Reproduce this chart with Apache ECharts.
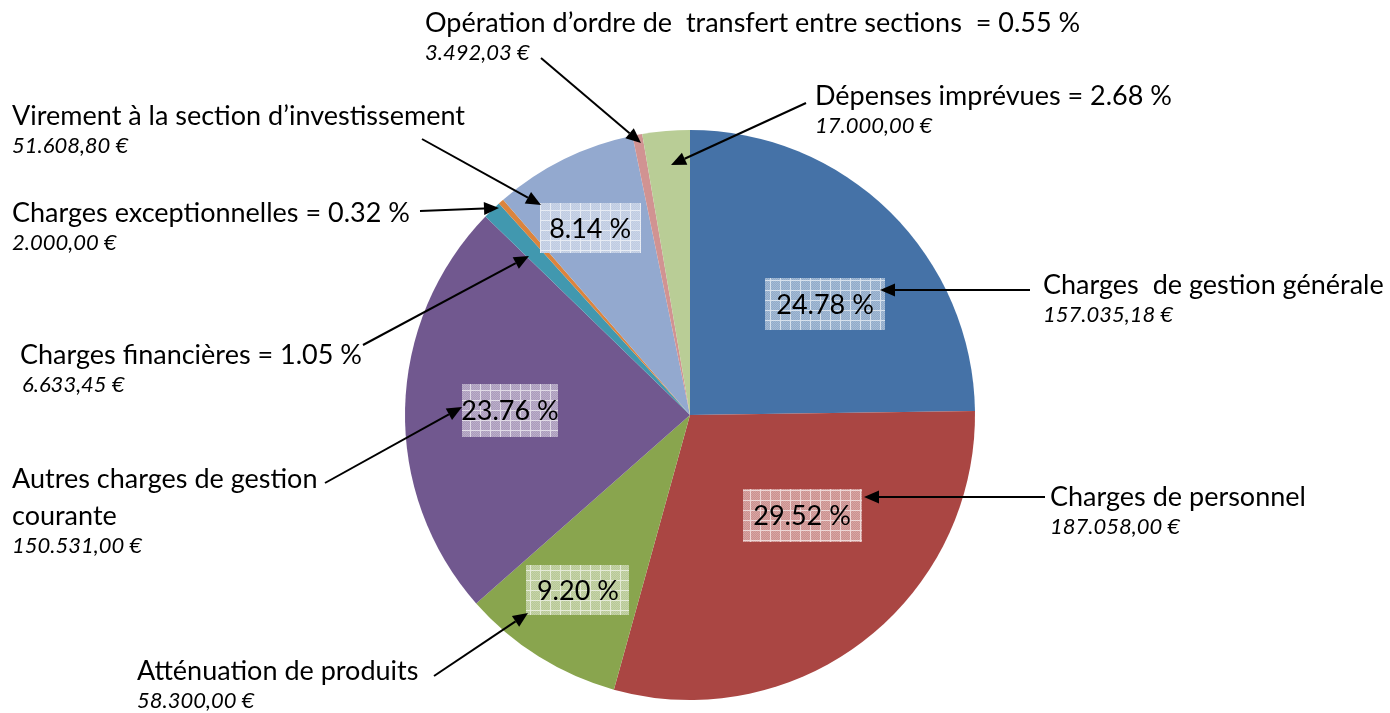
<!DOCTYPE html>
<html>
<head>
<meta charset="utf-8">
<script src="https://cdn.jsdelivr.net/npm/echarts@6/dist/echarts.min.js"></script>
<style>html,body{margin:0;padding:0;background:#fff}#c{width:1390px;height:713px}</style>
</head>
<body>
<div id="c"></div>
<script>
// ---- data ----
const categories = [
  'Charges  de gestion générale',
  'Charges de personnel',
  'Atténuation de produits',
  'Autres charges de gestion courante',
  'Charges financières',
  'Charges exceptionnelles',
  'Virement à la section d’investissement',
  'Opération d’ordre de  transfert entre sections ',
  'Dépenses imprévues'
];
const values = [157035.18, 187058.00, 58300.00, 150531.00, 6633.45, 2000.00, 51608.80, 3492.03, 17000.00];
const colors = ['#4572A7', '#AA4643', '#89A54E', '#71588F', '#4198AF', '#DB843D', '#93A9CF', '#D19392', '#B9CD96'];

// ---- layout (annotations) ----
const CX = 690, CY = 415, R = 285;
const FONT = 'Lato, "Open Sans", sans-serif';
const NAME_SIZE = 27;
// external label: x, y (centre of first line), pct appended?, wrap position, arrow [x1,y1,x2,y2]
const extLayout = [
  { x: 1043, y: 284, pct: false, arrow: [1030, 290, 880, 290] },
  { x: 1050, y: 496, pct: false, arrow: [1045, 497, 864, 497] },
  { x: 137, y: 670, pct: false, arrow: [434, 676, 528, 613] },
  { x: 12, y: 478, pct: false, wrapAt: 25, arrow: [325, 483, 462, 407] },
  { x: 20, y: 354, pct: true, vdx: 2, arrow: [363, 345, 529, 256] },
  { x: 12, y: 212, pct: true, arrow: [420, 211, 499, 208] },
  { x: 12, y: 115, pct: false, arrow: [422, 139, 541, 205] },
  { x: 425, y: 22, pct: true, arrow: [541, 58, 641, 143] },
  { x: 815, y: 95, pct: true, arrow: [806, 103, 671, 165] }
];
// inner percentage boxes: radial fraction, angle offset (deg), box size
const boxLayout = {
  0: { f: 0.613, da: 6.0, w: 120, h: 52 },
  1: { f: 0.527, da: -10.6, w: 119, h: 53 },
  2: { f: 0.729, da: 0.6, w: 103, h: 50 },
  3: { f: 0.632, da: 0.2, w: 96, h: 53 },
  6: { f: 0.744, da: -1.8, w: 101, h: 50 }
};

const total = values.reduce((a, b) => a + b, 0);
const pct = v => (v / total * 100).toFixed(2) + ' %';
function fmtEuro(v) {
  const [ip, dp] = v.toFixed(2).split('.');
  return ip.replace(/\B(?=(\d{3})+(?!\d))/g, '.') + ',' + dp + ' €';
}
function tint(hex, t) {
  const n = parseInt(hex.slice(1), 16);
  const r = (n >> 16) & 255, g = (n >> 8) & 255, b = n & 255;
  const m = c => Math.round(c + (255 - c) * t);
  return 'rgb(' + m(r) + ',' + m(g) + ',' + m(b) + ')';
}
function makePattern(color) {
  const c = document.createElement('canvas');
  c.width = 10; c.height = 10;
  const g = c.getContext('2d');
  g.fillStyle = tint(color, 0.4);
  g.fillRect(0, 0, 10, 10);
  g.fillStyle = 'rgba(255,255,255,0.2)';
  for (let y = 0; y < 10; y++) for (let x = 0; x < 10; x++) if ((x + y) % 2 === 0) g.fillRect(x, y, 1, 1);
  g.fillStyle = 'rgba(255,255,255,0.6)';
  g.fillRect(0, 0, 10, 1);
  g.fillRect(0, 1, 1, 9);
  return { image: c, repeat: 'repeat' };
}

const graphics = [];
// inner boxes from slice angles
let cum = 0;
values.forEach((v, i) => {
  const frac = v / total;
  const mid = (cum + frac / 2) * 360;
  cum += frac;
  const B = boxLayout[i];
  if (!B) return;
  const a = (mid + B.da) * Math.PI / 180;
  const bx = CX + Math.sin(a) * B.f * R;
  const by = CY - Math.cos(a) * B.f * R;
  graphics.push({
    type: 'rect', silent: true, z: 10,
    shape: { x: Math.round(bx - B.w / 2), y: Math.round(by - B.h / 2), width: B.w, height: B.h },
    style: { fill: makePattern(colors[i]) }
  });
  graphics.push({
    type: 'text', silent: true, z: 11,
    style: { x: bx, y: by + 1, text: pct(v), font: NAME_SIZE + 'px ' + FONT, fill: '#000', textAlign: 'center', textVerticalAlign: 'middle' }
  });
});

// external labels and arrows
extLayout.forEach((L, i) => {
  let name = categories[i];
  if (L.wrapAt) name = name.slice(0, L.wrapAt) + '\n' + name.slice(L.wrapAt + 1);
  if (L.pct) name = name + ' = ' + pct(values[i]);
  const nLines = name.split('\n').length;
  graphics.push({
    type: 'text', silent: true, z: 12,
    style: { x: L.x, y: L.y - 17, text: name, font: NAME_SIZE + 'px ' + FONT, fill: '#000', lineHeight: 37, textAlign: 'left', textVerticalAlign: 'top' }
  });
  graphics.push({
    type: 'text', silent: true, z: 12,
    style: { x: L.x + (L.vdx || 0), y: L.y + 37 * (nLines - 1) + 33 - 13, text: fmtEuro(values[i]), font: 'italic 22px ' + FONT, fill: '#000', textAlign: 'left', textVerticalAlign: 'top' }
  });
  const [x1, y1, x2, y2] = L.arrow;
  const dx = x2 - x1, dy = y2 - y1, len = Math.hypot(dx, dy);
  const ux = dx / len, uy = dy / len;
  const hl = 15, hw = 6.5;
  const bx = x2 - ux * hl, by = y2 - uy * hl;
  graphics.push({
    type: 'line', silent: true, z: 13,
    shape: { x1: x1, y1: y1, x2: bx, y2: by },
    style: { stroke: '#000', lineWidth: 2 }
  });
  graphics.push({
    type: 'polygon', silent: true, z: 13,
    shape: { points: [[x2, y2], [bx - uy * hw, by + ux * hw], [bx + uy * hw, by - ux * hw]] },
    style: { fill: '#000' }
  });
});

const chart = echarts.init(document.getElementById('c'), null, { renderer: 'canvas' });
chart.setOption({
  animation: false,
  backgroundColor: '#fff',
  series: [{
    type: 'pie',
    center: [CX, CY],
    radius: R,
    startAngle: 90,
    clockwise: true,
    silent: true,
    label: { show: false },
    labelLine: { show: false },
    itemStyle: { borderWidth: 0 },
    emphasis: { disabled: true },
    data: categories.map((c, i) => ({ name: c, value: values[i], itemStyle: { color: colors[i] } }))
  }],
  graphic: { elements: graphics }
});
</script>
</body>
</html>
